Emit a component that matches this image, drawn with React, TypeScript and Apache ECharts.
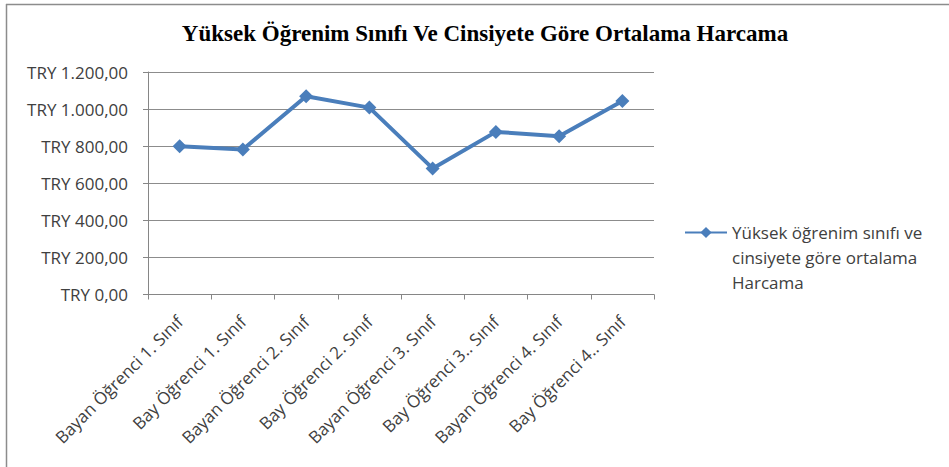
import React, { useEffect, useRef } from "react";
import * as echarts from "echarts";

const categories = [
  "Bayan Öğrenci 1. Sınıf",
  "Bay Öğrenci 1. Sınıf",
  "Bayan Öğrenci 2. Sınıf",
  "Bay Öğrenci 2. Sınıf",
  "Bayan Öğrenci 3. Sınıf",
  "Bay Öğrenci 3.. Sınıf",
  "Bayan Öğrenci 4. Sınıf",
  "Bay Öğrenci 4.. Sınıf",
];
const values = [800, 782, 1069, 1008, 680, 877, 854, 1044];
const seriesName = "Yüksek öğrenim sınıfı ve cinsiyete göre ortalama Harcama";
const legendLines = ["Yüksek öğrenim sınıfı ve", "cinsiyete göre ortalama", "Harcama"];
const titleText = "Yüksek Öğrenim Sınıfı Ve Cinsiyete Göre Ortalama Harcama";

function fmtTRY(v: number): string {
  const fixed = v.toFixed(2);
  const [intPart, dec] = fixed.split(".");
  const withDots = intPart.replace(/\B(?=(\d{3})+(?!\d))/g, ".");
  return "TRY " + withDots + "," + dec;
}

export default function App() {
  const ref = useRef<HTMLDivElement>(null);
  useEffect(() => {
    const chart = echarts.init(ref.current!, null, { renderer: "svg" });
    const blue = "#4a7ebb";
    const font = "Open Sans";
    chart.setOption({
      animation: false,
      backgroundColor: "#ffffff",
      title: {
        text: titleText,
        left: 480,
        top: 17,
        textAlign: "center",
        textStyle: {
          fontFamily: "Liberation Serif",
          fontWeight: "bold",
          fontSize: 23,
          color: "#000000",
        },
      },
      graphic: [
        { type: "line", shape: { x1: 6, y1: 4.5, x2: 949, y2: 4.5 }, style: { stroke: "#8c8c8c", lineWidth: 1.5 } },
        { type: "line", shape: { x1: 6.5, y1: 4, x2: 6.5, y2: 467 }, style: { stroke: "#8c8c8c", lineWidth: 1.5 } },
      ],
      legend: {
        left: 684,
        top: 170,
        padding: 0,
        itemWidth: 42,
        itemHeight: 14,
        data: [seriesName],
        formatter: () => "\n\n" + legendLines.join("\n"),
        textStyle: {
          fontFamily: font,
          fontSize: 17,
          color: "#404040",
          lineHeight: 25,
        },
      },
      grid: { left: 148, right: 295, top: 72, bottom: 172.5 },
      xAxis: {
        type: "category",
        data: categories,
        boundaryGap: true,
        axisLine: { lineStyle: { color: "#868686", width: 1 } },
        axisTick: { show: true, length: 5, alignWithLabel: false, lineStyle: { color: "#868686" } },
        axisLabel: {
          rotate: 45,
          interval: 0,
          margin: 24,
          fontFamily: font,
          fontSize: 17,
          color: "#404040",
        },
      },
      yAxis: {
        type: "value",
        min: 0,
        max: 1200,
        interval: 200,
        axisLine: { show: true, lineStyle: { color: "#868686", width: 1 } },
        axisTick: { show: true, length: 5, lineStyle: { color: "#868686" } },
        splitLine: { lineStyle: { color: "#8c8c8c", width: 1 } },
        axisLabel: {
          margin: 20,
          formatter: (v: number) => fmtTRY(v),
          fontFamily: font,
          fontSize: 17,
          color: "#404040",
        },
      },
      series: [
        {
          name: seriesName,
          type: "line",
          data: values,
          symbol: "diamond",
          symbolSize: 14,
          lineStyle: { color: blue, width: 4 },
          itemStyle: { color: blue },
        },
      ],
    });
    return () => chart.dispose();
  }, []);
  return (
    <div
      ref={ref}
      style={{ position: "absolute", left: 0, top: 0, width: 949, height: 467 }}
    />
  );
}
